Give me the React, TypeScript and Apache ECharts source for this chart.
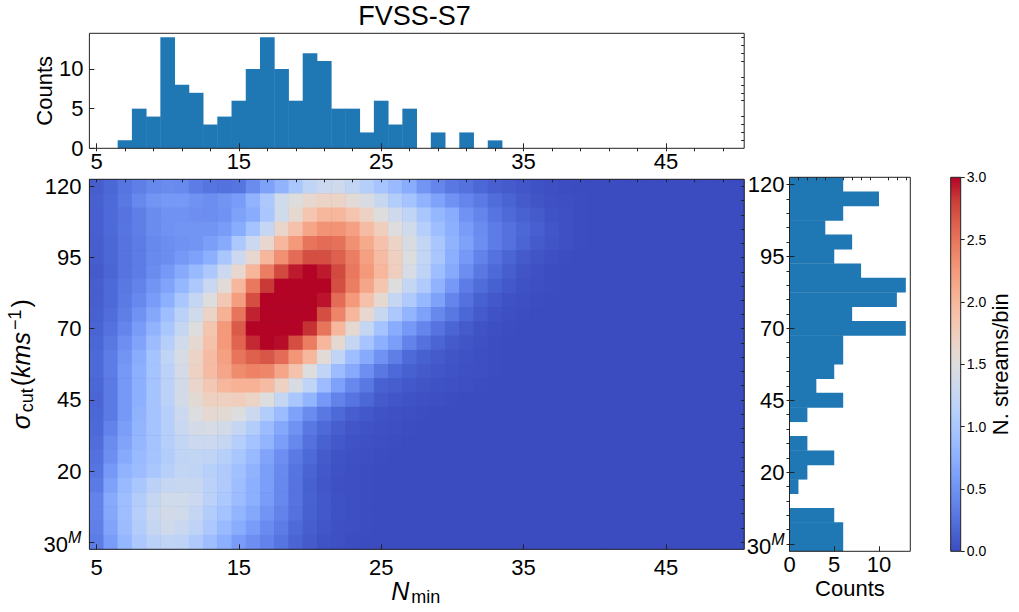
import React, { useEffect, useRef } from 'react';
import * as echarts from 'echarts';

// N_min bins, 5..50
const nMin = ['5','6','7','8','9','10','11','12','13','14','15','16','17','18','19','20','21','22','23','24','25','26','27','28','29','30','31','32','33','34','35','36','37','38','39','40','41','42','43','44','45','46','47','48','49','50'];
// sigma_cut bins, bottom to top
const sigmaCut = ['30M','0','5','10','15','20','25','30','35','40','45','50','55','60','65','70','75','80','85','90','95','100','105','110','115','120'];

const nMinCounts = [0,0,1,5,4,14,8,7,3,4,6,10,14,10,6,12,11,5,5,2,6,3,5,0,2,0,2,0,1,0,0,0,0,0,0,0,0,0,0,0,0,0,0,0,0,0];
// bottom to top, same order as sigmaCut
const sigmaCounts = [6,6,5,0,1,2,5,2,0,2,6,3,5,6,6,13,7,12,13,8,5,7,4,6,10,6];

// N. streams/bin. Rows go top (120) to bottom (30M),
// columns start at N=5; a row stops where the picture reaches 0
const heatRows = [
  [.12,.18,.28,.35,.42,.45,.43,.33,.28,.25,.28,.45,.62,.78,1.0,1.2,1.3,1.33,1.22,1.1,.97,.85,.72,.52,.4,.3,.25,.18,.13,.1,.07,.04,.02,.01],
  [.14,.2,.3,.42,.52,.55,.55,.5,.47,.52,.58,.78,1.02,1.35,1.5,1.62,1.68,1.68,1.55,1.45,1.27,1.08,.95,.78,.63,.5,.4,.32,.22,.16,.1,.06,.03,.02,.01],
  [.13,.2,.27,.35,.45,.5,.5,.48,.47,.5,.62,.72,1.0,1.35,1.6,1.85,2.0,2.0,1.87,1.7,1.5,1.33,1.2,1.0,.82,.72,.5,.4,.28,.2,.15,.1,.05,.03,.01],
  [.13,.2,.28,.35,.45,.5,.52,.52,.52,.58,.72,.95,1.25,1.65,1.9,2.15,2.3,2.3,2.2,1.95,1.75,1.5,1.35,1.1,.9,.75,.58,.45,.33,.25,.18,.13,.07,.03,.01],
  [.12,.18,.27,.33,.42,.47,.5,.52,.6,.7,1.02,1.3,1.62,2.0,2.25,2.5,2.55,2.52,2.32,2.12,1.9,1.68,1.45,1.22,1.0,.78,.62,.47,.33,.25,.17,.1,.06,.03,.01],
  [.12,.18,.27,.33,.43,.47,.55,.62,.75,1.0,1.3,1.62,2.0,2.32,2.55,2.72,2.72,2.62,2.45,2.2,1.95,1.72,1.48,1.22,1.0,.75,.55,.38,.26,.17,.1,.06,.03,.01],
  [.1,.17,.27,.33,.45,.55,.7,.85,1.02,1.3,1.62,2.02,2.45,2.75,2.93,3,2.93,2.75,2.48,2.25,2.0,1.75,1.42,1.18,.9,.7,.47,.3,.2,.12,.06,.03,.01],
  [.12,.2,.3,.38,.52,.65,.82,1.02,1.28,1.55,2.0,2.48,2.83,3,3,3,3,2.72,2.45,2.15,1.85,1.5,1.25,1.05,.78,.55,.33,.22,.14,.08,.04,.02,.01],
  [.12,.2,.32,.42,.58,.75,1.0,1.25,1.5,1.82,2.22,2.72,3,3,3,3,2.95,2.55,2.25,1.9,1.6,1.25,1.05,.83,.62,.4,.25,.14,.08,.04,.02,.01],
  [.14,.22,.35,.5,.68,.9,1.15,1.35,1.68,2.05,2.5,2.9,3,3,3,3,2.72,2.4,2.0,1.62,1.27,1.02,.8,.62,.42,.3,.18,.1,.05,.02,.01],
  [.16,.25,.4,.58,.78,1.0,1.25,1.5,1.85,2.25,2.65,3,3,3,3,2.85,2.5,2.0,1.6,1.25,.95,.72,.55,.4,.27,.17,.1,.05,.02,.01],
  [.18,.3,.48,.65,.88,1.1,1.35,1.6,1.9,2.25,2.6,2.88,3,2.97,2.72,2.45,2.0,1.6,1.25,.97,.75,.6,.38,.25,.17,.1,.06,.03,.01],
  [.2,.33,.52,.72,.95,1.2,1.42,1.68,1.95,2.2,2.5,2.62,2.68,2.55,2.28,2.0,1.55,1.2,.9,.7,.5,.35,.2,.14,.1,.06,.04,.02,.01],
  [.2,.33,.55,.75,.95,1.15,1.4,1.7,1.95,2.15,2.35,2.42,2.38,2.15,1.88,1.5,1.2,.88,.7,.48,.3,.2,.14,.1,.07,.05,.03,.02,.01],
  [.18,.32,.55,.75,.95,1.15,1.38,1.65,1.82,2.0,2.05,2.05,1.95,1.7,1.45,1.2,.88,.62,.42,.3,.15,.12,.08,.06,.04,.03,.02,.01],
  [.17,.32,.55,.75,.95,1.15,1.38,1.58,1.72,1.72,1.75,1.68,1.5,1.25,1.0,.8,.55,.38,.28,.18,.1,.07,.05,.03,.02,.01],
  [.18,.32,.55,.78,.95,1.1,1.3,1.48,1.6,1.58,1.48,1.3,1.08,.88,.62,.45,.3,.2,.12,.08,.05,.03,.02,.01],
  [.2,.38,.6,.8,.95,1.1,1.28,1.4,1.42,1.38,1.25,1.08,.88,.68,.5,.3,.2,.12,.07,.05,.03,.02,.01],
  [.22,.45,.65,.82,.95,1.1,1.22,1.3,1.3,1.25,1.1,.95,.8,.6,.42,.25,.15,.08,.05,.03,.02,.01],
  [.25,.48,.7,.85,.95,1.08,1.2,1.22,1.2,1.12,1.0,.85,.65,.48,.32,.2,.1,.05,.03,.02,.01],
  [.28,.55,.78,.88,1.0,1.12,1.22,1.2,1.12,1.05,.92,.78,.6,.43,.28,.16,.08,.04,.02,.01],
  [.32,.62,.85,1.0,1.15,1.25,1.27,1.27,1.15,1.05,.9,.75,.6,.42,.27,.14,.07,.03,.02,.01],
  [.38,.7,.9,1.08,1.25,1.35,1.35,1.3,1.15,1.02,.88,.75,.58,.42,.27,.15,.08,.04,.02,.01],
  [.38,.68,.9,1.1,1.28,1.38,1.35,1.25,1.08,.95,.8,.68,.52,.38,.25,.14,.08,.04,.02,.01],
  [.36,.65,.88,1.08,1.25,1.33,1.28,1.18,1.02,.85,.72,.58,.44,.33,.2,.12,.07,.03,.02,.01],
  [.33,.58,.82,1.02,1.15,1.2,1.18,1.05,.9,.75,.58,.48,.38,.28,.17,.1,.05,.03,.01],
];

const colorbarTicks = [0, 0.5, 1, 1.5, 2, 2.5, 3];
const countTicks = [0, 5, 10];
const topMinor = [1,2,3,4,6,7,8,9,11,12,13,14];
const rightMinor = [1,2,3,4,6,7,8,9,11,12,13];

// matplotlib coolwarm
const coolwarm = ['#3b4cc0','#4d68d7','#6282ea','#779af7','#8db0fe','#a3c2ff','#b8d0f9','#ccd9ee','#dddddd','#ecd3c5','#f5c4ad','#f7b194','#f49a7b','#ec7f63','#de604d','#cb3e38','#b40426'];

const FONT = '"Liberation Sans", Arial, sans-serif';
const INK = '#222';
const BAR = '#1f77b4';

const boxes = {
  main: { left: 89.4, top: 179.3, width: 654.8, height: 370 },
  top: { left: 89.4, top: 33.3, width: 654.8, height: 115 },
  right: { left: 789.5, top: 177.3, width: 120.8, height: 374 },
  bar: { left: 950.7, top: 177.3, width: 10, height: 374 },
};

const mathRich = {
  i: { fontSize: 25, fontStyle: 'italic', fontFamily: FONT, color: '#000' },
  t: { fontSize: 25, fontFamily: FONT, color: '#000' },
  sub: { fontSize: 18, fontFamily: FONT, color: '#000', verticalAlign: 'bottom', lineHeight: 30, padding: [0, 2, 0, 2] },
  sup: { fontSize: 18, fontFamily: FONT, color: '#000', verticalAlign: 'top', lineHeight: 30, padding: [0, 2, 0, 2] },
};

const tickLabelRich = {
  n: { fontSize: 22, fontFamily: FONT, color: '#000', lineHeight: 26, verticalAlign: 'bottom' },
  m: { fontSize: 16, fontStyle: 'italic', fontFamily: FONT, color: '#000', lineHeight: 26, verticalAlign: 'top' },
};

const catAxis = (data: string[], gridIndex: number, major: number, len: number, labelled: boolean, margin: number, extra: object = {}) => ({
  type: 'category' as const,
  gridIndex,
  data,
  z: 10,
  axisLine: { show: false },
  axisTick: {
    show: true,
    inside: true,
    alignWithLabel: true,
    length: len,
    lineStyle: { color: INK, width: 1 },
    interval: (i: number) => i % major === 0,
  },
  axisLabel: {
    show: labelled,
    interval: (i: number) => i % major === 0,
    fontSize: 22,
    fontFamily: FONT,
    color: '#000',
    margin,
    rich: tickLabelRich,
    formatter: (v: string) => (v === '30M' ? '{n|30}{m|M}' : v),
  },
  ...extra,
});

const countAxis = (gridIndex: number, max: number, ticks: number[], len: number, labelled: boolean, margin: number, extra: object = {}) => ({
  type: 'value' as const,
  gridIndex,
  min: 0,
  max,
  z: 10,
  splitLine: { show: false },
  axisLine: { show: false },
  axisTick: { show: true, inside: true, length: len, customValues: ticks, lineStyle: { color: INK, width: 1 } },
  axisLabel: { show: labelled, customValues: ticks, fontSize: 22, fontFamily: FONT, color: '#000', margin },
  ...extra,
});

const App: React.FC = () => {
  const chartRef = useRef<HTMLDivElement | null>(null);

  useEffect(() => {
    if (!chartRef.current) return;
    document.body.style.margin = '0';
    const chart = echarts.init(chartRef.current, undefined, { renderer: 'svg' });

    const heatData: number[][] = [];
    heatRows.forEach((row, r) => {
      nMin.forEach((_, c) => {
        heatData.push([c, sigmaCut.length - 1 - r, row[c] ?? 0]);
      });
    });

    const gridBase = { show: true, z: 5, outerBoundsMode: 'none', borderColor: INK, borderWidth: 1, backgroundColor: 'transparent' };

    const option: any = {
      animation: false,
      backgroundColor: '#fff',
      title: {
        text: 'FVSS-S7',
        left: 409.5,
        top: -3,
        textAlign: 'center',
        textStyle: { fontSize: 27, fontWeight: 'normal', fontFamily: FONT, color: '#000' },
      },
      // keeps the seams between heatmap cells from showing white
      graphic: [
        {
          type: 'rect',
          z: 0,
          shape: { x: boxes.main.left, y: boxes.main.top, width: boxes.main.width, height: boxes.main.height },
          style: { fill: coolwarm[0] },
        },
      ],
      visualMap: {
        show: false,
        seriesIndex: 0,
        min: 0,
        max: 3,
        inRange: { color: coolwarm },
      },
      grid: [
        { ...gridBase, ...boxes.main },
        { ...gridBase, ...boxes.top },
        { ...gridBase, ...boxes.right },
        { ...gridBase, ...boxes.bar },
      ],
      xAxis: [
        // main heatmap
        catAxis(nMin, 0, 10, 5, true, 7, {
          name: '{i|N}{sub|min}',
          nameLocation: 'middle',
          nameMoveOverlap: false,
          nameGap: 27,
          nameTextStyle: { rich: mathRich },
        }),
        catAxis(nMin, 0, 2, 3, false, 7),
        // top histogram
        catAxis(nMin, 1, 10, 5, true, 2),
        catAxis(nMin, 1, 2, 3, false, 2),
        // right histogram
        countAxis(2, 13.5, countTicks, 5, true, 2, {
          name: 'Counts',
          nameLocation: 'middle',
          nameMoveOverlap: false,
          nameGap: 26,
          nameTextStyle: { fontSize: 22, fontFamily: FONT, color: '#000' },
        }),
        countAxis(2, 13.5, rightMinor, 3, false, 2),
        // colour bar
        { type: 'category', gridIndex: 3, data: ['bar'], show: false },
      ],
      yAxis: [
        catAxis(sigmaCut, 0, 5, 5, true, 8, {
          name: '{s|σ}{sub|cut}{t|(}{i|kms}{sup|−1}{t|)}',
          nameLocation: 'middle',
          nameRotate: 90,
          nameMoveOverlap: false,
          nameGap: 53,
          nameTextStyle: { rich: { ...mathRich, s: mathRich.i } },
        }),
        catAxis(sigmaCut, 0, 1, 3, false, 8),
        countAxis(1, 14.5, countTicks, 5, true, 6, {
          name: 'Counts',
          nameLocation: 'middle',
          nameRotate: 90,
          nameMoveOverlap: false,
          nameGap: 34,
          nameTextStyle: { fontSize: 22, fontFamily: FONT, color: '#000' },
        }),
        countAxis(1, 14.5, topMinor, 3, false, 6),
        catAxis(sigmaCut, 2, 5, 5, true, 5),
        catAxis(sigmaCut, 2, 1, 3, false, 5),
        {
          type: 'value',
          gridIndex: 3,
          min: 0,
          max: 3,
          position: 'right',
          z: 10,
          splitLine: { show: false },
          axisLine: { show: false },
          axisTick: { show: true, length: 4, customValues: colorbarTicks, lineStyle: { color: INK, width: 1 } },
          axisLabel: {
            customValues: colorbarTicks,
            fontSize: 14,
            fontFamily: FONT,
            color: '#000',
            margin: 6,
            formatter: (v: number) => v.toFixed(1),
          },
          name: 'N. streams/bin',
          nameLocation: 'middle',
          nameRotate: 90,
          nameMoveOverlap: false,
          nameGap: 29,
          nameTextStyle: { fontSize: 22, fontFamily: FONT, color: '#000' },
        },
      ],
      series: [
        {
          type: 'heatmap',
          xAxisIndex: 0,
          yAxisIndex: 0,
          data: heatData,
          progressive: 0,
          emphasis: { disabled: true },
        },
        {
          type: 'bar',
          xAxisIndex: 2,
          yAxisIndex: 2,
          data: nMinCounts,
          barWidth: '103%',
          itemStyle: { color: BAR },
        },
        {
          type: 'bar',
          xAxisIndex: 4,
          yAxisIndex: 4,
          data: sigmaCounts,
          barWidth: '103%',
          itemStyle: { color: BAR },
        },
        {
          type: 'bar',
          xAxisIndex: 6,
          yAxisIndex: 6,
          data: [3],
          barWidth: '100%',
          itemStyle: {
            color: {
              type: 'linear',
              x: 0,
              y: 1,
              x2: 0,
              y2: 0,
              colorStops: coolwarm.map((color, i) => ({ offset: i / (coolwarm.length - 1), color })),
            },
          },
        },
      ],
    };

    chart.setOption(option);

    return () => {
      chart.dispose();
    };
  }, []);

  return <div ref={chartRef} style={{ width: '1019px', height: '612px' }}></div>;
};

export default App;
